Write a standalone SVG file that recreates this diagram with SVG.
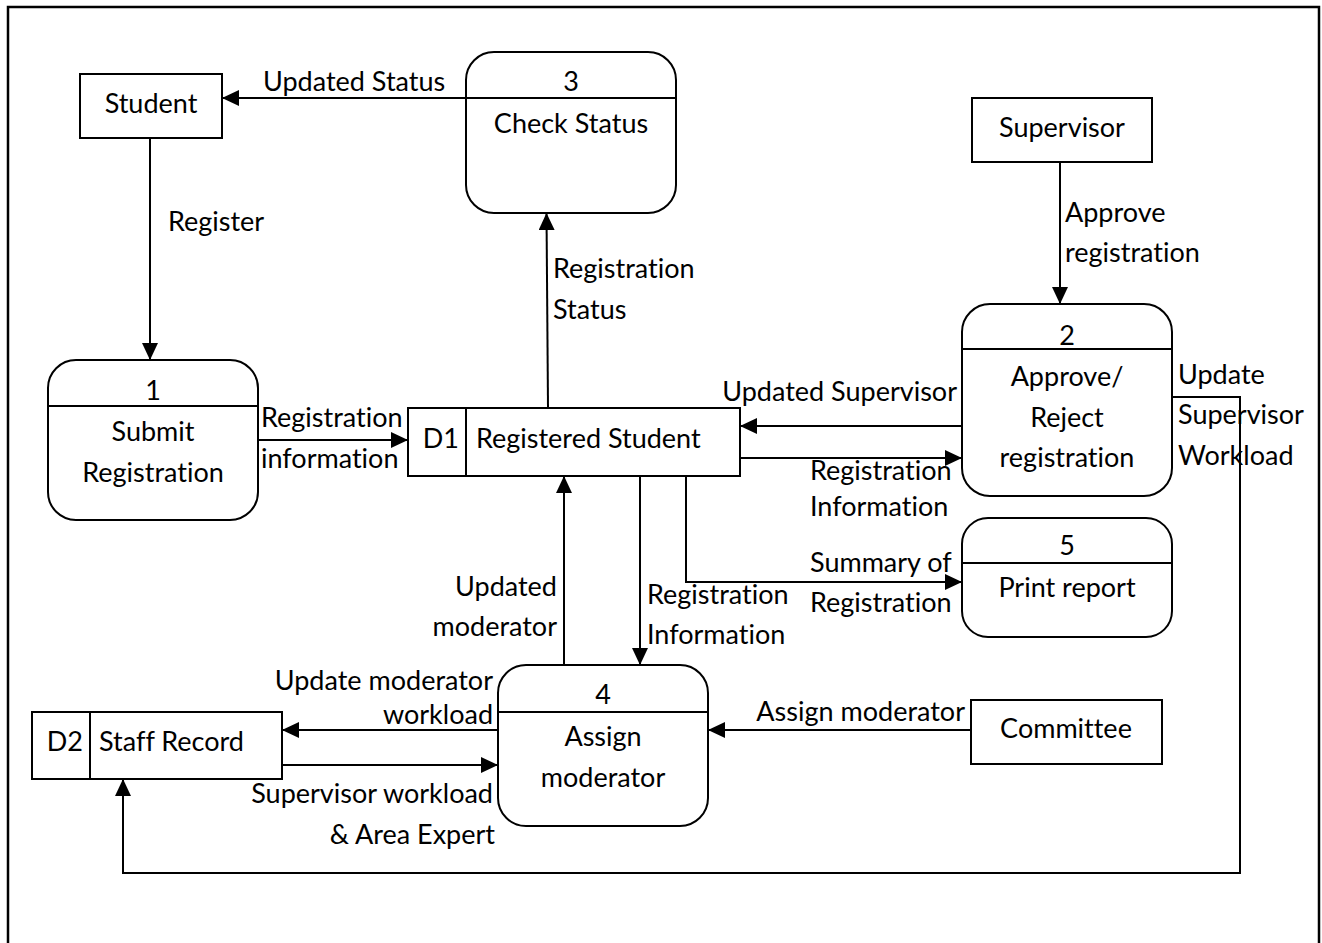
<svg xmlns="http://www.w3.org/2000/svg" width="1322" height="943" viewBox="0 0 1322 943">
<style>
text{font-family:Lato,"Open Sans","Liberation Sans",sans-serif;font-size:27px;fill:#000;font-variant-ligatures:none}
.c{text-anchor:middle}
.e{text-anchor:end}
.box{fill:#fff;stroke:#000;stroke-width:2}
.ln{fill:none;stroke:#000;stroke-width:2}
.fl{fill:none;stroke:#000;stroke-width:2;marker-end:url(#ah)}
</style>
<defs>
<marker id="ah" markerUnits="userSpaceOnUse" markerWidth="17" markerHeight="16" refX="17" refY="8" orient="auto">
<path d="M0,0 L17,8 L0,16 Z" fill="#000"/>
</marker>
</defs>
<rect x="8" y="7" width="1311" height="1000" fill="#fff" stroke="#000" stroke-width="2.5"/>

<g id="connectors">
<path class="fl" d="M466,98 L222,98"/>
<path class="fl" d="M150,138 L150,360"/>
<path class="fl" d="M258,440 L408,440"/>
<path class="fl" d="M548,408 L546.5,213"/>
<path class="fl" d="M1060,162 L1060,304"/>
<path class="fl" d="M962,426 L740,426"/>
<path class="fl" d="M740,458 L962,458"/>
<path class="fl" d="M686,476 L686,582 L962,582"/>
<path class="fl" d="M640,476 L640,665"/>
<path class="fl" d="M564,665 L564,476"/>
<path class="fl" d="M971,730 L708,730"/>
<path class="fl" d="M498,730 L282,730"/>
<path class="fl" d="M282,765 L498,765"/>
<path class="fl" d="M1172,397 L1240,397 L1240,873 L123,873 L123,779"/>
</g>

<g id="labels">
<text x="263" y="91">Updated Status</text>
<text x="168" y="231">Register</text>
<text x="261" y="427">Registration</text>
<text x="261" y="468">information</text>
<text x="553" y="278">Registration</text>
<text x="553" y="319">Status</text>
<text x="1065" y="222">Approve</text>
<text x="1065" y="262">registration</text>
<text x="957" y="401" class="e">Updated Supervisor</text>
<text x="810" y="480">Registration</text>
<text x="810" y="516">Information</text>
<text x="810" y="572">Summary of</text>
<text x="810" y="612">Registration</text>
<text x="557" y="596" class="e">Updated</text>
<text x="557" y="636" class="e">moderator</text>
<text x="647" y="604">Registration</text>
<text x="647" y="644">Information</text>
<text x="1178" y="384">Update</text>
<text x="1178" y="424">Supervisor</text>
<text x="1178" y="465">Workload</text>
<text x="965" y="721" class="e">Assign moderator</text>
<text x="493" y="690" class="e">Update moderator</text>
<text x="493" y="724" class="e">workload</text>
<text x="493" y="803" class="e">Supervisor workload</text>
<text x="495" y="844" class="e">&amp; Area Expert</text>
</g>

<g id="student">
<rect class="box" x="80" y="74" width="142" height="64"/>
<text x="151" y="113" class="c">Student</text>
</g>

<g id="supervisor">
<rect class="box" x="972" y="98" width="180" height="64"/>
<text x="1062" y="137" class="c">Supervisor</text>
</g>

<g id="committee">
<rect class="box" x="971" y="700" width="191" height="64"/>
<text x="1066" y="738" class="c">Committee</text>
</g>

<g id="p1">
<rect class="box" x="48" y="360" width="210" height="160" rx="28"/>
<line class="ln" x1="48" y1="406" x2="258" y2="406"/>
<text x="153" y="400" class="c">1</text>
<text x="153" y="441" class="c">Submit</text>
<text x="153" y="482" class="c">Registration</text>
</g>

<g id="p3">
<rect class="box" x="466" y="52" width="210" height="161" rx="28"/>
<line class="ln" x1="466" y1="98" x2="676" y2="98"/>
<text x="571" y="91" class="c">3</text>
<text x="571" y="133" class="c">Check Status</text>
</g>

<g id="p2">
<rect class="box" x="962" y="304" width="210" height="192" rx="28"/>
<line class="ln" x1="962" y1="349" x2="1172" y2="349"/>
<text x="1067" y="345" class="c">2</text>
<text x="1067" y="386" class="c">Approve/</text>
<text x="1067" y="427" class="c">Reject</text>
<text x="1067" y="467" class="c">registration</text>
</g>

<g id="p5">
<rect class="box" x="962" y="518" width="210" height="119" rx="26"/>
<line class="ln" x1="962" y1="563" x2="1172" y2="563"/>
<text x="1067" y="555" class="c">5</text>
<text x="1067" y="597" class="c">Print report</text>
</g>

<g id="p4">
<rect class="box" x="498" y="665" width="210" height="161" rx="28"/>
<line class="ln" x1="498" y1="712" x2="708" y2="712"/>
<text x="603" y="704" class="c">4</text>
<text x="603" y="746" class="c">Assign</text>
<text x="603" y="787" class="c">moderator</text>
</g>

<g id="d1">
<rect class="box" x="408" y="408" width="332" height="68"/>
<line class="ln" x1="466" y1="408" x2="466" y2="476"/>
<text x="459" y="448" class="e">D1</text>
<text x="476" y="448">Registered Student</text>
</g>

<g id="d2">
<rect class="box" x="32" y="712" width="250" height="67"/>
<line class="ln" x1="90" y1="712" x2="90" y2="779"/>
<text x="83" y="751" class="e">D2</text>
<text x="99" y="751">Staff Record</text>
</g>
</svg>
